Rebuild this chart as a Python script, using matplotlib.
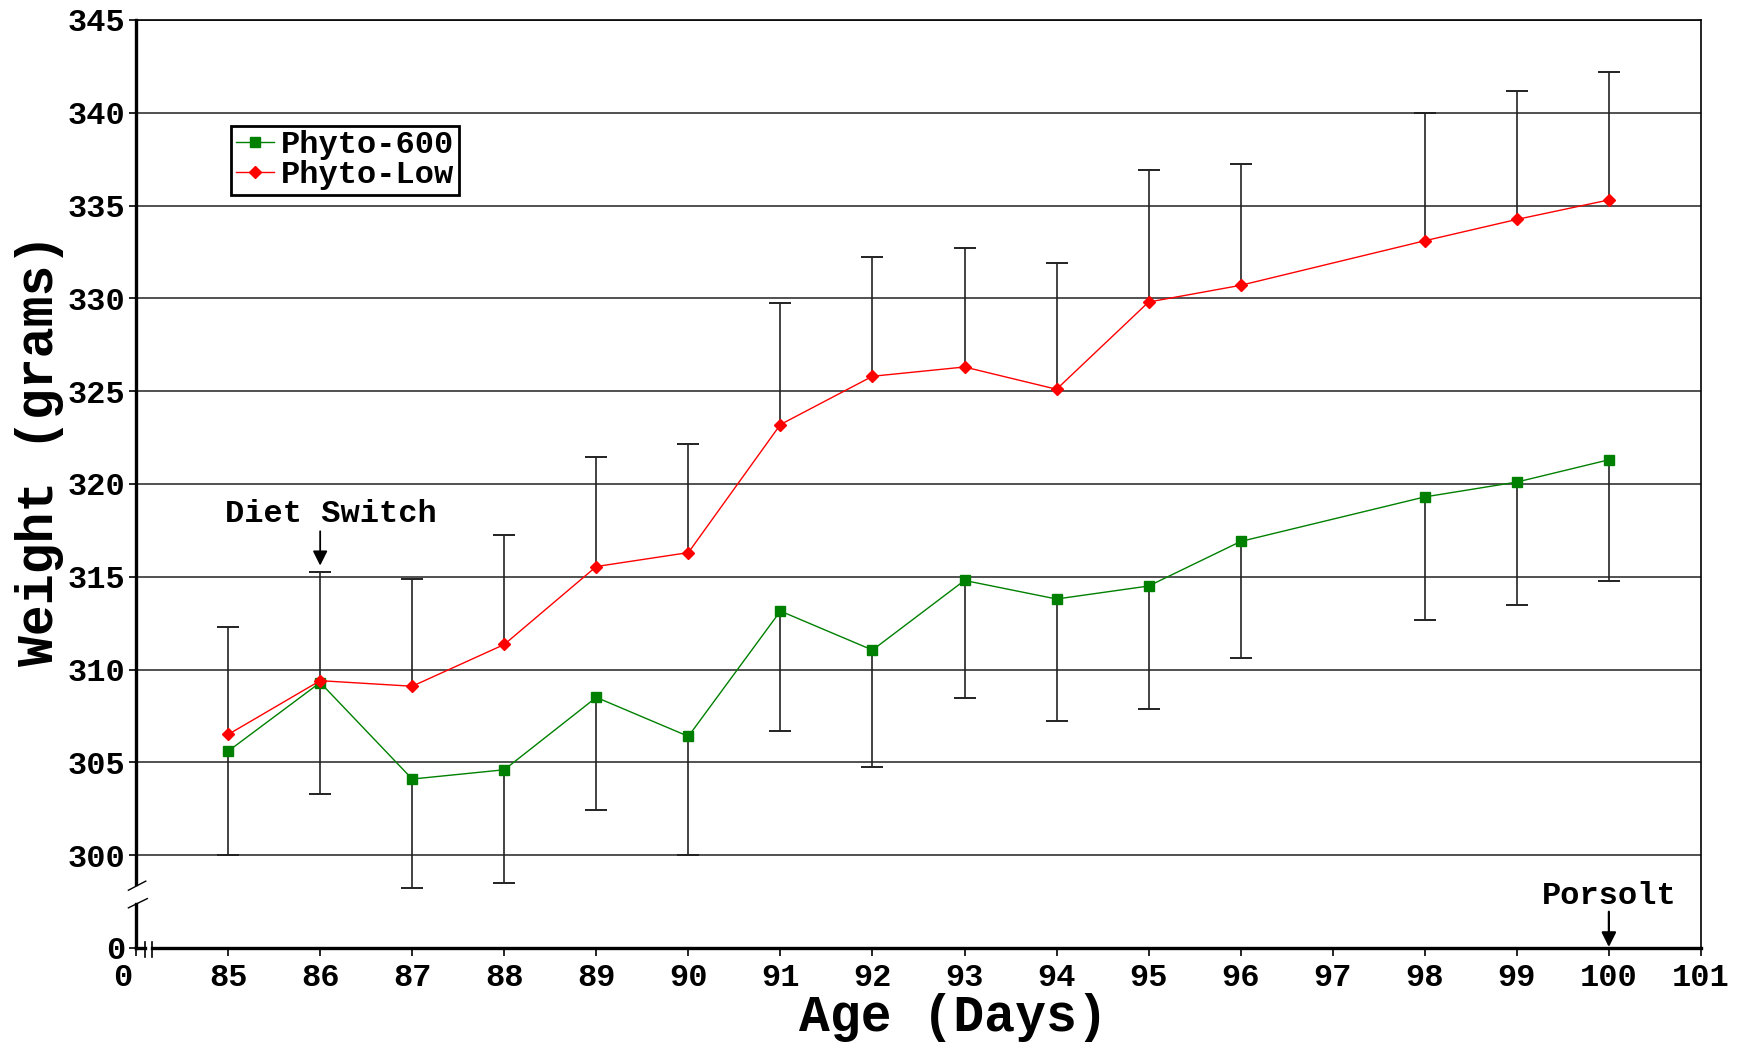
import numpy as np
import matplotlib.pyplot as plt
import matplotlib.transforms as mtransforms

# Data (no reading on day 97)
days = [85, 86, 87, 88, 89, 90, 91, 92, 93, 94, 95, 96, 98, 99, 100]
phyto_600 = [305.6, 309.3, 304.1, 304.6, 308.5, 306.4, 313.15, 311.05, 314.8, 313.8, 314.5, 316.9, 319.3, 320.1, 321.3]
phyto_600_err = [5.6, 6.0, 5.85, 6.1, 6.05, 6.4, 6.45, 6.3, 6.35, 6.55, 6.6, 6.3, 6.65, 6.6, 6.55]
phyto_low = [306.5, 309.4, 309.1, 311.35, 315.55, 316.3, 323.2, 325.8, 326.3, 325.1, 329.8, 330.7, 333.1, 334.25, 335.3]
phyto_low_err = [5.8, 5.85, 5.8, 5.9, 5.9, 5.85, 6.55, 6.45, 6.4, 6.8, 7.1, 6.55, 6.9, 6.9, 6.9]

x_ticks = [84] + list(range(85, 102))
x_labels = ["0"] + [str(d) for d in range(85, 102)]
y_ticks = [295] + list(range(300, 346, 5))
y_labels = ["0"] + [str(v) for v in range(300, 346, 5)]

font = "Liberation Mono"
plt.rcParams["font.family"] = [font, "DejaVu Sans Mono"]
plt.rcParams["font.weight"] = "bold"

fig = plt.figure(figsize=(17.51, 10.47), dpi=100)
ax = fig.add_axes([0.0777, 0.0946, 0.8937, 0.8864])
ax.set_xlim(84, 101)
ax.set_ylim(295, 345)

# horizontal grid
for v in range(300, 346, 5):
    ax.axhline(v, color="#222222", lw=1.1, zorder=1)

# error bars: Phyto-Low upward, Phyto-600 downward
d = np.array(days)
lo = np.array(phyto_600)
lo_err = np.array(phyto_600_err)
hi = np.array(phyto_low)
hi_err = np.array(phyto_low_err)
ax.vlines(d, hi, hi + hi_err, color="#222222", lw=1.2, zorder=2)
ax.plot(d, hi + hi_err, ls="none", marker="_", ms=16, mew=1.4, color="#222222", zorder=2)
ax.vlines(d, lo - lo_err, lo, color="#222222", lw=1.2, zorder=2)
ax.plot(d, lo - lo_err, ls="none", marker="_", ms=16, mew=1.4, color="#222222", zorder=2)

ax.plot(days, phyto_600, color="#008000", lw=1.0, marker="s", ms=7.5,
        mfc="#008000", mec="#008000", label="Phyto-600", zorder=3)
ax.plot(days, phyto_low, color="#ff0000", lw=1.0, marker="D", ms=6.5,
        mfc="#ff0000", mec="#ff0000", label="Phyto-Low", zorder=3)

# spines
for s in ["left", "bottom"]:
    ax.spines[s].set_visible(False)
ax.spines["right"].set_linewidth(1.2)
ax.spines["top"].set_linewidth(1.2)

# left axis with a break
yt = ax.get_yaxis_transform()
ax.plot([0, 0], [298.47, 345], color="black", lw=2.4, transform=yt, clip_on=False, zorder=5)
ax.plot([0, 0], [295, 297.39], color="black", lw=2.4, transform=yt, clip_on=False, zorder=5)
ax.plot([-0.0049, 0.0062], [298.11, 298.6], color="black", lw=1.0, transform=yt, clip_on=False, zorder=5)
ax.plot([-0.0049, 0.0072], [297.16, 297.66], color="black", lw=1.0, transform=yt, clip_on=False, zorder=5)

# bottom axis with a break
xt = ax.get_xaxis_transform()
ax.plot([84, 84.098], [0, 0], color="black", lw=2.4, transform=xt, clip_on=False, zorder=5)
ax.plot([84.174, 101], [0, 0], color="black", lw=2.4, transform=xt, clip_on=False, zorder=5)
for bx in [84.098, 84.174]:
    ax.plot([bx, bx], [0.0065, -0.0097], color="black", lw=1.2, transform=xt, clip_on=False, zorder=5)

ax.set_xticks(x_ticks)
ax.set_xticklabels(x_labels)
ax.set_yticks(y_ticks)
ax.set_yticklabels(y_labels)
ax.tick_params(axis="x", length=5.5, width=1.2, pad=5, labelsize=23, direction="out")
ax.tick_params(axis="y", length=5, width=1.2, pad=3, labelsize=23, direction="out")
for lab in ax.get_xticklabels()[:1]:
    lab.set_transform(lab.get_transform() + mtransforms.ScaledTranslation(-0.13, 0, fig.dpi_scale_trans))

fig.text(953 / 1751, 1 - 1018 / 1047, "Age (Days)", fontsize=37, fontweight="bold",
         ha="center", va="center")
fig.text(40 / 1751, 1 - 450 / 1047, "Weight (grams)", fontsize=37, fontweight="bold",
         ha="center", va="center", rotation=90)

leg = ax.legend(loc="upper left", bbox_to_anchor=(0.0607, 0.886), borderaxespad=0,
                fancybox=False, edgecolor="black", framealpha=1, fontsize=23,
                handlelength=1.2, handletextpad=0.2, labelspacing=0.0, borderpad=0.15)
leg.get_frame().set_linewidth(2.0)

ax.text(86.12, 318.4, "Diet Switch", ha="center", va="center", fontsize=23, fontweight="bold")
ax.annotate("", xy=(86, 315.6), xytext=(86, 317.45),
            arrowprops=dict(arrowstyle="-|>", color="black", lw=1.3, mutation_scale=22,
                            shrinkA=0, shrinkB=0))
ax.text(100, 297.8, "Porsolt", ha="center", va="center", fontsize=23, fontweight="bold")
ax.annotate("", xy=(100, 295.05), xytext=(100, 296.95),
            arrowprops=dict(arrowstyle="-|>", color="black", lw=1.6, mutation_scale=22,
                            shrinkA=0, shrinkB=0))

fig.savefig("out.png", dpi=100)
